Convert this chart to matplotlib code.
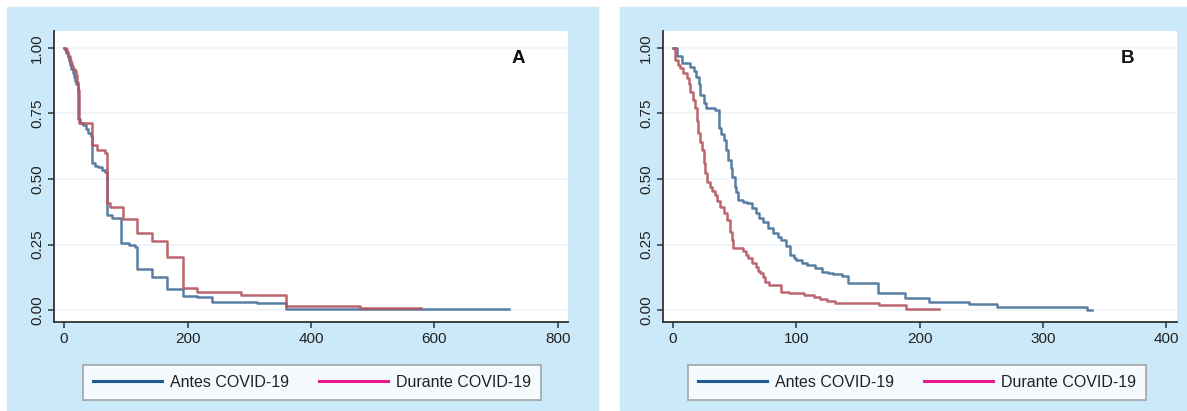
import matplotlib
matplotlib.use("Agg")
import matplotlib.pyplot as plt
from matplotlib.patches import Rectangle

plt.rcParams['font.family'] = ['Liberation Sans', 'DejaVu Sans']

# ---------------- data (Kaplan-Meier step curves) ----------------
# Panel A
a_antes_t = [0, 2, 4, 6, 8, 10, 12, 14, 16, 18, 20, 22, 23, 26, 30, 35, 39, 44, 45, 50, 55, 62, 66,
             70, 77, 93, 105, 115, 119, 142, 166, 192, 215, 239, 312, 359, 720]
a_antes_s = [1.0, 0.99, 0.98, 0.965, 0.95, 0.935, 0.92, 0.905, 0.89, 0.875, 0.86, 0.80, 0.73, 0.715,
             0.705, 0.69, 0.675, 0.665, 0.56, 0.55, 0.545, 0.535, 0.525, 0.363, 0.35, 0.255, 0.249,
             0.242, 0.156, 0.127, 0.081, 0.056, 0.052, 0.033, 0.027, 0.004, 0.004]
a_durante_t = [0, 3, 5, 7, 9, 11, 13, 15, 17, 19, 21, 23, 25, 46, 53, 66, 70, 75, 95, 119, 142, 166,
               192, 215, 286, 359, 479, 578]
a_durante_s = [1.0, 0.995, 0.985, 0.97, 0.955, 0.94, 0.93, 0.92, 0.91, 0.895, 0.87, 0.84, 0.713,
               0.63, 0.612, 0.598, 0.407, 0.394, 0.346, 0.296, 0.264, 0.204, 0.086, 0.069, 0.06,
               0.016, 0.007, 0.007]

# Panel B
b_antes_t = [0, 3, 7, 14, 17, 19, 21, 22, 25, 27, 34, 37, 39, 41, 43, 45, 47, 48, 50, 51, 53, 57, 60,
             64, 67, 70, 73, 77, 81, 85, 88, 92, 95, 98, 100, 105, 109, 115, 121, 126, 130, 137,
             142, 166, 188, 208, 240, 263, 336, 340]
b_antes_s = [1.0, 0.97, 0.94, 0.928, 0.91, 0.89, 0.86, 0.82, 0.79, 0.77, 0.763, 0.693, 0.67, 0.649,
             0.61, 0.572, 0.54, 0.509, 0.47, 0.452, 0.42, 0.413, 0.407, 0.39, 0.369, 0.352, 0.337,
             0.315, 0.293, 0.28, 0.268, 0.245, 0.21, 0.2, 0.192, 0.18, 0.172, 0.16, 0.147, 0.142,
             0.137, 0.132, 0.103, 0.065, 0.045, 0.033, 0.025, 0.011, 0.003, 0.003]
b_durante_t = [0, 1.6, 4, 5.7, 8, 11, 13, 14, 16, 18, 19.5, 20.6, 22, 23.3, 25, 26, 28, 30, 32, 34, 36,
               38, 41, 43.6, 46, 47.7, 49, 57, 59, 61, 64, 67, 69, 71, 73, 75, 77.5, 88, 94, 106, 114,
               119.5, 125, 131.7, 167, 189, 216]
b_durante_s = [1.0, 0.953, 0.935, 0.921, 0.905, 0.883, 0.86, 0.832, 0.8, 0.769, 0.72, 0.674, 0.64,
               0.61, 0.56, 0.522, 0.49, 0.471, 0.455, 0.439, 0.415, 0.395, 0.37, 0.344, 0.3, 0.268,
               0.236, 0.225, 0.21, 0.2, 0.179, 0.165, 0.15, 0.141, 0.125, 0.109, 0.096, 0.071, 0.065,
               0.058, 0.05, 0.042, 0.035, 0.029, 0.022, 0.004, 0.004]

labels = ["Antes COVID-19", "Durante COVID-19"]
yticks = [0, 0.25, 0.5, 0.75, 1.0]
ytick_labels = ["0.00", "0.25", "0.50", "0.75", "1.00"]
a_xticks = [0, 200, 400, 600, 800]
b_xticks = [0, 100, 200, 300, 400]

# ---------------- style ----------------
W, H = 1187, 411
BG = '#cbe9f9'
C_BLUE = '#46709a'
C_RED = '#b5555e'
LEG_BLUE = '#1f5c96'
LEG_RED = '#e8198b'
GRID = '#edf3f6'

fig = plt.figure(figsize=(W / 100, H / 100), dpi=100)
fig.patch.set_facecolor('white')

def fx(px):
    return px / W

def fy(py):
    return 1 - py / H

# blue panel backgrounds
fig.patches.append(Rectangle((fx(7), fy(410)), fx(598) - fx(7), fy(7) - fy(410),
                             transform=fig.transFigure, color=BG, zorder=-10))
fig.patches.append(Rectangle((fx(620), fy(410)), fx(1187) - fx(620), fy(7) - fy(410),
                             transform=fig.transFigure, color=BG, zorder=-10))

def make_panel(left_px, right_px, xlim, xticks, curves, letter, leg_center_px):
    ax = fig.add_axes([fx(left_px), fy(322), fx(right_px) - fx(left_px), fy(31) - fy(322)])
    ax.set_facecolor('white')
    for yv in yticks:
        ax.axhline(yv, color=GRID, lw=1.2, zorder=0)
    lines = []
    for (t, s), c in zip(curves, [C_BLUE, C_RED]):
        ax.plot(t, s, drawstyle='steps-post', color=c, lw=1.8, alpha=0.9, zorder=3)
    ax.set_xlim(*xlim)
    ax.set_ylim(-0.0446, 1.0636)
    ax.set_xticks(xticks)
    ax.set_xticklabels([str(v) for v in xticks], fontsize=11, color='#222222')
    ax.set_yticks(yticks)
    ax.set_yticklabels(ytick_labels, rotation=90, va='center', fontsize=11, color='#222222')
    for sp in ['top', 'right']:
        ax.spines[sp].set_visible(False)
    for sp in ['left', 'bottom']:
        ax.spines[sp].set_color('#333333')
        ax.spines[sp].set_linewidth(1.3)
    ax.tick_params(direction='out', length=4, width=1.1, color='#333333', pad=3)
    ax.text(0.903, 0.907, letter, transform=ax.transAxes, fontsize=13.5, fontweight='bold',
            ha='center', va='center', color='#111111')
    h1, = ax.plot([], [], color=LEG_BLUE, lw=2.2)
    h2, = ax.plot([], [], color=LEG_RED, lw=2.2)
    leg = ax.legend([h1, h2], labels, loc='center', ncol=2,
                    bbox_to_anchor=(fx(leg_center_px), fy(382.5)),
                    bbox_transform=fig.transFigure, fontsize=11.5, frameon=True,
                    fancybox=False, edgecolor='#a0a0a0', handlelength=4.3,
                    handletextpad=0.5, columnspacing=1.9, borderpad=0.65)
    leg.get_frame().set_linewidth(1.4)
    leg.get_frame().set_facecolor('white')
    for txt in leg.get_texts():
        txt.set_color('#222222')
    return ax

make_panel(54, 568, (-16.2, 816.2), a_xticks,
           [(a_antes_t, a_antes_s), (a_durante_t, a_durante_s)], 'A', 312)
make_panel(663, 1177, (-8.1, 408.9), b_xticks,
           [(b_antes_t, b_antes_s), (b_durante_t, b_durante_s)], 'B', 917)

fig.savefig('out.png', dpi=100, facecolor='white')
